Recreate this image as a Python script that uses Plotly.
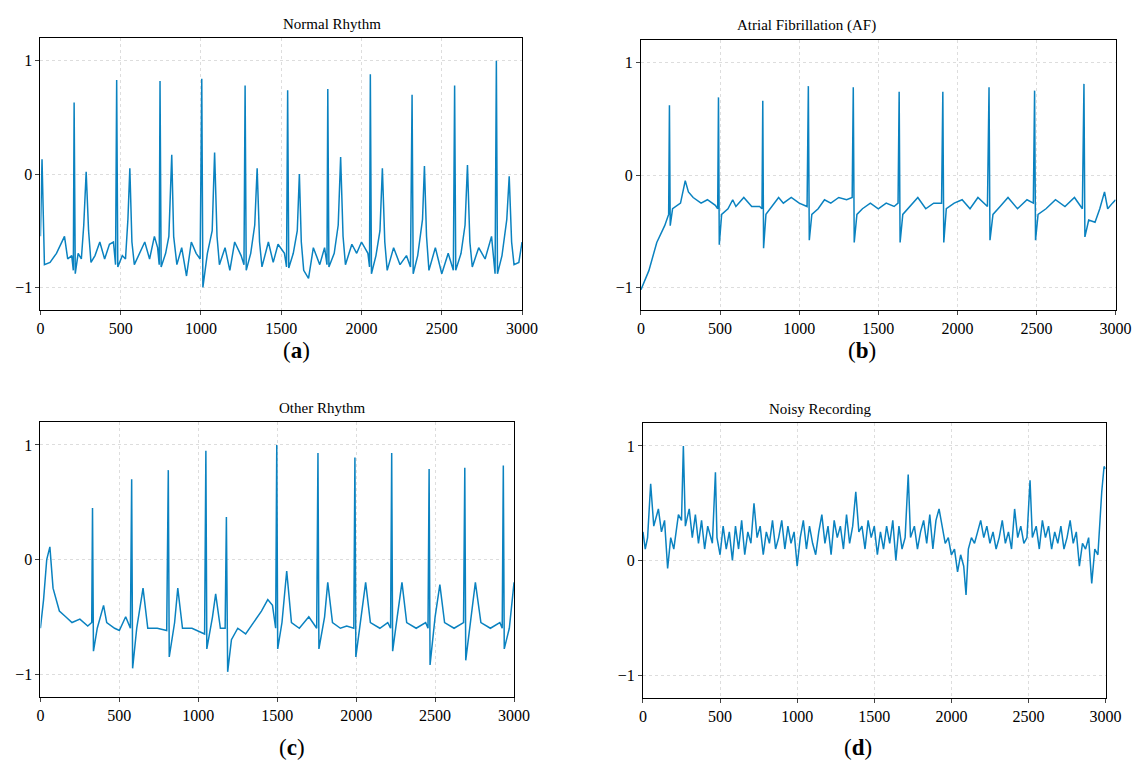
import plotly.graph_objects as go

normal = [(0,-0.55),(10,0.13),(25,-0.8),(60,-0.78),(100,-0.7),(130,-0.6),(150,-0.55),(170,-0.75),(195,-0.72),(205,-0.85),(210,0.63),(217,-0.88),(235,-0.7),(255,-0.75),(270,-0.45),(285,0.02),(300,-0.5),(315,-0.78),(340,-0.72),(370,-0.6),(400,-0.75),(430,-0.62),(455,-0.6),(468,-0.8),(475,0.83),(482,-0.82),(510,-0.72),(530,-0.75),(545,-0.4),(557,0.05),(570,-0.6),(585,-0.8),(620,-0.7),(650,-0.6),(680,-0.75),(710,-0.55),(730,-0.65),(740,-0.8),(745,0.82),(752,-0.82),(780,-0.7),(800,-0.55),(818,0.17),(830,-0.55),(850,-0.8),(880,-0.65),(910,-0.9),(940,-0.6),(970,-0.7),(995,-0.75),(1005,0.84),(1012,-1.0),(1040,-0.7),(1070,-0.5),(1085,0.19),(1100,-0.55),(1115,-0.8),(1150,-0.65),(1180,-0.85),(1210,-0.6),(1250,-0.72),(1268,-0.8),(1275,0.78),(1282,-0.85),(1310,-0.7),(1335,-0.45),(1350,0.05),(1365,-0.6),(1380,-0.82),(1420,-0.6),(1450,-0.78),(1480,-0.62),(1520,-0.7),(1533,-0.82),(1540,0.74),(1547,-0.83),(1575,-0.7),(1600,-0.5),(1613,0.0),(1625,-0.6),(1640,-0.85),(1670,-0.92),(1700,-0.65),(1740,-0.8),(1770,-0.65),(1785,-0.8),(1790,0.75),(1797,-0.82),(1830,-0.7),(1855,-0.45),(1870,0.15),(1885,-0.55),(1900,-0.8),(1940,-0.62),(1970,-0.7),(2000,-0.6),(2040,-0.7),(2050,-0.82),(2055,0.88),(2062,-0.88),(2090,-0.72),(2115,-0.5),(2130,0.05),(2145,-0.6),(2160,-0.85),(2200,-0.65),(2240,-0.8),(2280,-0.72),(2305,-0.82),(2315,0.70),(2322,-0.88),(2350,-0.72),(2380,-0.4),(2392,0.07),(2405,-0.55),(2420,-0.85),(2460,-0.65),(2500,-0.88),(2540,-0.7),(2572,-0.85),(2580,0.78),(2587,-0.85),(2620,-0.7),(2645,-0.45),(2660,0.08),(2675,-0.6),(2690,-0.82),(2730,-0.65),(2770,-0.75),(2810,-0.55),(2832,-0.88),(2840,1.0),(2847,-0.88),(2875,-0.72),(2905,-0.4),(2920,-0.02),(2935,-0.6),(2950,-0.8),(2980,-0.78),(3000,-0.6)]

af = [(0,-1.02),(50,-0.85),(100,-0.6),(150,-0.45),(175,-0.35),(180,0.62),(185,-0.45),(200,-0.3),(250,-0.25),(280,-0.05),(300,-0.15),(330,-0.2),(380,-0.25),(420,-0.22),(470,-0.27),(485,-0.3),(490,0.69),(495,-0.62),(510,-0.35),(550,-0.3),(580,-0.22),(600,-0.28),(650,-0.2),(700,-0.28),(750,-0.28),(765,-0.3),(770,0.66),(775,-0.65),(790,-0.35),(830,-0.28),(870,-0.2),(900,-0.25),(950,-0.2),(1000,-0.25),(1050,-0.28),(1058,0.79),(1064,-0.58),(1080,-0.35),(1120,-0.3),(1160,-0.22),(1200,-0.25),(1250,-0.2),(1300,-0.22),(1335,-0.2),(1342,0.78),(1348,-0.6),(1365,-0.35),(1400,-0.3),(1450,-0.25),(1500,-0.3),(1550,-0.25),(1600,-0.28),(1625,-0.25),(1632,0.74),(1638,-0.6),(1655,-0.35),(1700,-0.28),(1750,-0.2),(1800,-0.3),(1850,-0.25),(1900,-0.25),(1908,0.74),(1914,-0.6),(1930,-0.3),(1980,-0.25),(2030,-0.22),(2080,-0.3),(2130,-0.2),(2190,-0.28),(2200,0.78),(2206,-0.58),(2225,-0.35),(2270,-0.28),(2320,-0.2),(2380,-0.3),(2440,-0.22),(2480,-0.25),(2488,0.75),(2494,-0.58),(2510,-0.35),(2560,-0.3),(2620,-0.22),(2680,-0.28),(2740,-0.2),(2790,-0.3),(2800,0.81),(2806,-0.55),(2830,-0.4),(2870,-0.42),(2900,-0.3),(2930,-0.15),(2950,-0.3),(2980,-0.25),(3000,-0.22)]

other = [(0,-0.6),(20,-0.35),(40,0.0),(60,0.11),(80,-0.25),(120,-0.45),(160,-0.5),(200,-0.55),(250,-0.52),(300,-0.58),(325,-0.55),(330,0.45),(336,-0.8),(360,-0.6),(400,-0.4),(420,-0.55),(470,-0.6),(500,-0.62),(540,-0.5),(570,-0.6),(578,0.70),(584,-0.95),(610,-0.6),(650,-0.25),(680,-0.6),(740,-0.6),(800,-0.62),(810,0.78),(816,-0.85),(850,-0.55),(870,-0.25),(900,-0.6),(960,-0.6),(1040,-0.65),(1048,0.95),(1054,-0.78),(1090,-0.5),(1110,-0.3),(1140,-0.6),(1170,-0.6),(1178,0.37),(1186,-0.98),(1210,-0.7),(1250,-0.6),(1300,-0.65),(1350,-0.55),(1400,-0.45),(1440,-0.35),(1470,-0.4),(1490,-0.6),(1497,1.0),(1503,-0.78),(1530,-0.55),(1560,-0.1),(1590,-0.55),(1640,-0.6),(1700,-0.5),(1750,-0.6),(1758,0.93),(1764,-0.78),(1800,-0.5),(1820,-0.2),(1850,-0.55),(1900,-0.6),(1940,-0.58),(1985,-0.6),(1992,0.89),(1998,-0.85),(2030,-0.5),(2060,-0.2),(2090,-0.55),(2150,-0.6),(2200,-0.55),(2218,-0.6),(2225,0.93),(2231,-0.8),(2260,-0.5),(2290,-0.2),(2320,-0.55),(2380,-0.6),(2440,-0.55),(2455,-0.6),(2462,0.79),(2468,-0.92),(2500,-0.5),(2530,-0.22),(2560,-0.55),(2620,-0.6),(2680,-0.55),(2688,0.80),(2694,-0.88),(2730,-0.5),(2755,-0.2),(2790,-0.55),(2850,-0.6),(2910,-0.55),(2925,-0.6),(2932,0.82),(2938,-0.78),(2970,-0.6),(3000,-0.2)]

noisy = [(0,0.25),(15,0.1),(30,0.2),(50,0.67),(70,0.3),(100,0.45),(120,0.25),(140,0.35),(160,-0.07),(180,0.2),(200,0.1),(230,0.4),(250,0.35),(262,1.0),(275,0.3),(300,0.45),(320,0.2),(340,0.4),(360,0.15),(380,0.35),(400,0.1),(420,0.3),(450,0.15),(470,0.77),(480,0.2),(500,0.05),(520,0.3),(540,0.1),(560,0.25),(580,0.0),(600,0.3),(620,0.1),(640,0.35),(660,0.05),(680,0.25),(700,0.15),(720,0.5),(740,0.2),(760,0.3),(780,0.05),(800,0.25),(820,0.15),(840,0.35),(860,0.1),(880,0.2),(900,0.35),(920,0.1),(940,0.3),(960,0.15),(980,0.25),(1000,-0.05),(1020,0.2),(1040,0.35),(1060,0.1),(1080,0.3),(1100,0.15),(1120,0.05),(1140,0.25),(1160,0.4),(1180,0.15),(1200,0.3),(1220,0.05),(1240,0.35),(1260,0.2),(1280,0.3),(1300,0.1),(1320,0.4),(1340,0.15),(1360,0.3),(1380,0.6),(1400,0.25),(1420,0.3),(1440,0.1),(1460,0.35),(1480,0.2),(1500,0.3),(1520,0.05),(1540,0.25),(1560,0.1),(1580,0.3),(1600,0.15),(1620,0.35),(1640,0.0),(1660,0.3),(1680,0.1),(1700,0.2),(1720,0.75),(1735,0.2),(1760,0.3),(1780,0.1),(1800,0.25),(1820,0.35),(1840,0.15),(1860,0.4),(1880,0.1),(1900,0.35),(1920,0.45),(1940,0.3),(1960,0.15),(1980,0.2),(2000,0.05),(2020,0.1),(2040,-0.1),(2060,0.05),(2080,-0.05),(2095,-0.3),(2110,0.1),(2130,0.2),(2150,0.15),(2170,0.25),(2190,0.35),(2210,0.2),(2230,0.3),(2250,0.15),(2270,0.25),(2290,0.1),(2310,0.2),(2330,0.35),(2350,0.15),(2370,0.25),(2390,0.1),(2410,0.45),(2430,0.2),(2450,0.3),(2470,0.15),(2490,0.2),(2510,0.7),(2525,0.2),(2550,0.3),(2570,0.1),(2590,0.35),(2610,0.2),(2630,0.3),(2650,0.1),(2670,0.25),(2690,0.15),(2710,0.3),(2730,0.1),(2750,0.2),(2770,0.35),(2790,0.15),(2810,0.25),(2830,-0.05),(2850,0.15),(2870,0.1),(2890,0.2),(2910,-0.2),(2930,0.1),(2950,0.05),(2975,0.6),(2990,0.82),(3000,0.8)]

titles = ["Normal Rhythm", "Atrial Fibrillation (AF)", "Other Rhythm", "Noisy Recording"]
letters = ["a", "b", "c", "d"]
x_ticks = [0, 500, 1000, 1500, 2000, 2500, 3000]
y_ticks = [-1, 0, 1]

FONT = "Liberation Serif"
COLOR = "#0a82c0"
OFF = 8
W, H = 1143 - 2 * OFF, 783 - 2 * OFF
# pixel boxes in window coordinates: left, right, top, bottom
boxes = [(40, 522, 38, 310), (641, 1116, 40, 310), (40, 514, 422, 697), (643, 1106, 423, 698)]
label_y = [350, 350, 762, 762]


def px(v):
    v = (v - 3.7) / 0.983  # empirical horizontal correction
    return (v - OFF) / W


def py(v):
    return 1 - (v - OFF) / H


fig = go.Figure()
for i, data in enumerate([normal, af, other, noisy]):
    xs = [p[0] for p in data]
    ys = [p[1] for p in data]
    n = "" if i == 0 else str(i + 1)
    fig.add_trace(go.Scatter(x=xs, y=ys, mode="lines", line=dict(color=COLOR, width=1.5),
                             xaxis="x" + n, yaxis="y" + n, showlegend=False))
    l, r, t, b = boxes[i]
    ax = dict(showline=True, linecolor="black", mirror=True, ticks="outside", ticklen=4,
              showgrid=True, gridcolor="#dddddd", griddash="dot", zeroline=False,
              tickfont=dict(family=FONT, size=16, color="black"))
    fig.layout["xaxis" + n] = dict(ax, domain=[px(l), px(r)], range=[0, 3000], tickvals=x_ticks,
                                   anchor="y" + n)
    fig.layout["yaxis" + n] = dict(ax, domain=[py(b), py(t)], range=[-1.2, 1.2], tickvals=y_ticks,
                                   ticktext=["\u22121", "0", "1"], anchor="x" + n)
    cx = px((l + r) / 2)
    fig.add_annotation(x=cx, y=py(t - 4), xref="paper", yref="paper", yanchor="bottom", text=titles[i],
                       showarrow=False, font=dict(family=FONT, size=15, color="black"))
    fig.add_annotation(x=cx, y=py(label_y[i]), xref="paper", yref="paper",
                       text="(<b>" + letters[i] + "</b>)", showarrow=False,
                       font=dict(family=FONT, size=23, color="black"))

fig.update_layout(width=W, height=H, margin=dict(l=0, r=0, t=0, b=0),
                  plot_bgcolor="white", paper_bgcolor="white")
fig.write_html("out.html")
